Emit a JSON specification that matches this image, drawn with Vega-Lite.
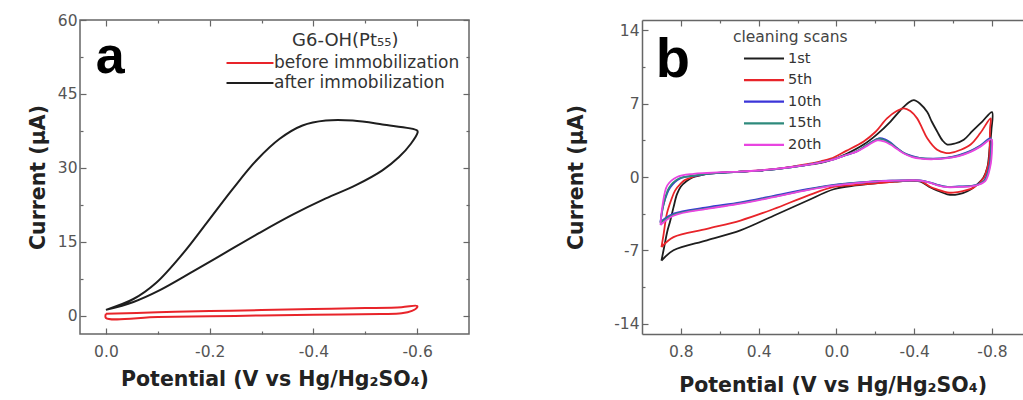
{
  "$schema": "https://vega.github.io/schema/vega-lite/v6.json",
  "background": "white",
  "padding": {"left": 27, "top": 12, "right": 0, "bottom": 0},
  "bounds": "flush",
  "spacing": 173,
  "config": {
    "font": "DejaVu Sans",
    "view": {"stroke": "#666", "strokeWidth": 1.5},
    "axis": {"grid": false, "labelFont": "DejaVu Sans", "labelFontSize": 15.5, "labelColor": "#555", "titleFont": "DejaVu Sans", "titleFontSize": 20.5, "titleFontWeight": "bold", "titleColor": "#222", "tickColor": "#666", "tickWidth": 1.2, "domainColor": "#666", "domainWidth": 1.5}
  },
  "datasets": {
    "a": [
      {"s": "before immobilization", "x": 0, "y": 0.4}, {"s": "before immobilization", "x": -0.1, "y": 0.7}, {"s": "before immobilization", "x": -0.2, "y": 0.95}, {"s": "before immobilization", "x": -0.3, "y": 1.15}, {"s": "before immobilization", "x": -0.4, "y": 1.35}, {"s": "before immobilization", "x": -0.5, "y": 1.55}, {"s": "before immobilization", "x": -0.57, "y": 1.75}, {"s": "before immobilization", "x": -0.6, "y": 2.0},
      {"s": "before immobilization", "x": -0.6, "y": 1.7}, {"s": "before immobilization", "x": -0.59, "y": 1.0}, {"s": "before immobilization", "x": -0.57, "y": 0.5}, {"s": "before immobilization", "x": -0.53, "y": 0.35}, {"s": "before immobilization", "x": -0.4, "y": 0.2}, {"s": "before immobilization", "x": -0.3, "y": 0.05}, {"s": "before immobilization", "x": -0.2, "y": -0.1}, {"s": "before immobilization", "x": -0.1, "y": -0.25}, {"s": "before immobilization", "x": 0, "y": -0.45}, {"s": "before immobilization", "x": 0, "y": 0.4},
      {"s": "after immobilization", "x": 0, "y": 1.2}, {"s": "after immobilization", "x": -0.053, "y": 3.4}, {"s": "after immobilization", "x": -0.097, "y": 6.7}, {"s": "after immobilization", "x": -0.149, "y": 12.7}, {"s": "after immobilization", "x": -0.194, "y": 18.8}, {"s": "after immobilization", "x": -0.245, "y": 25.8}, {"s": "after immobilization", "x": -0.29, "y": 31.5}, {"s": "after immobilization", "x": -0.335, "y": 35.9}, {"s": "after immobilization", "x": -0.379, "y": 38.6}, {"s": "after immobilization", "x": -0.424, "y": 39.6}, {"s": "after immobilization", "x": -0.476, "y": 39.6}, {"s": "after immobilization", "x": -0.533, "y": 38.8}, {"s": "after immobilization", "x": -0.6, "y": 37.6},
      {"s": "after immobilization", "x": -0.601, "y": 37.2}, {"s": "after immobilization", "x": -0.588, "y": 34.9}, {"s": "after immobilization", "x": -0.565, "y": 32.2}, {"s": "after immobilization", "x": -0.533, "y": 29.5}, {"s": "after immobilization", "x": -0.482, "y": 26.5}, {"s": "after immobilization", "x": -0.424, "y": 23.8}, {"s": "after immobilization", "x": -0.36, "y": 20.5}, {"s": "after immobilization", "x": -0.296, "y": 16.8}, {"s": "after immobilization", "x": -0.232, "y": 12.9}, {"s": "after immobilization", "x": -0.168, "y": 9.0}, {"s": "after immobilization", "x": -0.104, "y": 5.2}, {"s": "after immobilization", "x": -0.053, "y": 2.8}, {"s": "after immobilization", "x": 0, "y": 1.2}
    ],
    "b": [
      {"s": "1st", "x": 0.9, "y": -8.0}, {"s": "1st", "x": 0.885, "y": -6.6}, {"s": "1st", "x": 0.87, "y": -5.2}, {"s": "1st", "x": 0.855, "y": -4.2}, {"s": "1st", "x": 0.838, "y": -2.9}, {"s": "1st", "x": 0.82, "y": -1.64}, {"s": "1st", "x": 0.8, "y": -0.9}, {"s": "1st", "x": 0.77, "y": -0.38}, {"s": "1st", "x": 0.74, "y": -0.05}, {"s": "1st", "x": 0.7, "y": 0.15}, {"s": "1st", "x": 0.666, "y": 0.3}, {"s": "1st", "x": 0.58, "y": 0.42}, {"s": "1st", "x": 0.494, "y": 0.5}, {"s": "1st", "x": 0.4, "y": 0.6}, {"s": "1st", "x": 0.323, "y": 0.73}, {"s": "1st", "x": 0.24, "y": 0.93}, {"s": "1st", "x": 0.151, "y": 1.15}, {"s": "1st", "x": 0.08, "y": 1.35}, {"s": "1st", "x": 0.03, "y": 1.6}, {"s": "1st", "x": -0.05, "y": 2.2}, {"s": "1st", "x": -0.14, "y": 3.1}, {"s": "1st", "x": -0.21, "y": 4.1}, {"s": "1st", "x": -0.278, "y": 5.3}, {"s": "1st", "x": -0.33, "y": 6.4}, {"s": "1st", "x": -0.37, "y": 7.1}, {"s": "1st", "x": -0.398, "y": 7.35}, {"s": "1st", "x": -0.43, "y": 7.0}, {"s": "1st", "x": -0.467, "y": 6.2}, {"s": "1st", "x": -0.49, "y": 5.3}, {"s": "1st", "x": -0.518, "y": 4.35}, {"s": "1st", "x": -0.545, "y": 3.5}, {"s": "1st", "x": -0.57, "y": 3.1}, {"s": "1st", "x": -0.61, "y": 3.2}, {"s": "1st", "x": -0.655, "y": 3.56}, {"s": "1st", "x": -0.7, "y": 4.4}, {"s": "1st", "x": -0.75, "y": 5.3}, {"s": "1st", "x": -0.8, "y": 6.2},
      {"s": "1st", "x": -0.797, "y": 4.5}, {"s": "1st", "x": -0.788, "y": 2.8}, {"s": "1st", "x": -0.776, "y": 0.9}, {"s": "1st", "x": -0.755, "y": -0.1}, {"s": "1st", "x": -0.724, "y": -0.7}, {"s": "1st", "x": -0.69, "y": -1.2}, {"s": "1st", "x": -0.65, "y": -1.55}, {"s": "1st", "x": -0.61, "y": -1.7}, {"s": "1st", "x": -0.57, "y": -1.65}, {"s": "1st", "x": -0.52, "y": -1.3}, {"s": "1st", "x": -0.484, "y": -1.0}, {"s": "1st", "x": -0.433, "y": -0.45}, {"s": "1st", "x": -0.38, "y": -0.35}, {"s": "1st", "x": -0.3, "y": -0.45}, {"s": "1st", "x": -0.2, "y": -0.6}, {"s": "1st", "x": -0.1, "y": -0.8}, {"s": "1st", "x": 0.014, "y": -1.17}, {"s": "1st", "x": 0.151, "y": -2.27}, {"s": "1st", "x": 0.323, "y": -3.7}, {"s": "1st", "x": 0.494, "y": -5.1}, {"s": "1st", "x": 0.666, "y": -6.05}, {"s": "1st", "x": 0.838, "y": -7.0}, {"s": "1st", "x": 0.9, "y": -8.0},
      {"s": "5th", "x": 0.9, "y": -6.7}, {"s": "5th", "x": 0.89, "y": -5.6}, {"s": "5th", "x": 0.872, "y": -3.5}, {"s": "5th", "x": 0.85, "y": -2.2}, {"s": "5th", "x": 0.83, "y": -1.3}, {"s": "5th", "x": 0.8, "y": -0.6}, {"s": "5th", "x": 0.78, "y": -0.3}, {"s": "5th", "x": 0.74, "y": 0.0}, {"s": "5th", "x": 0.7, "y": 0.2}, {"s": "5th", "x": 0.666, "y": 0.32}, {"s": "5th", "x": 0.58, "y": 0.45}, {"s": "5th", "x": 0.494, "y": 0.52}, {"s": "5th", "x": 0.4, "y": 0.62}, {"s": "5th", "x": 0.323, "y": 0.75}, {"s": "5th", "x": 0.24, "y": 0.95}, {"s": "5th", "x": 0.151, "y": 1.22}, {"s": "5th", "x": 0.08, "y": 1.5}, {"s": "5th", "x": 0.03, "y": 1.75}, {"s": "5th", "x": -0.05, "y": 2.5}, {"s": "5th", "x": -0.14, "y": 3.4}, {"s": "5th", "x": -0.2, "y": 4.3}, {"s": "5th", "x": -0.26, "y": 5.6}, {"s": "5th", "x": -0.31, "y": 6.3}, {"s": "5th", "x": -0.347, "y": 6.56}, {"s": "5th", "x": -0.38, "y": 6.3}, {"s": "5th", "x": -0.415, "y": 5.6}, {"s": "5th", "x": -0.44, "y": 4.7}, {"s": "5th", "x": -0.467, "y": 3.7}, {"s": "5th", "x": -0.518, "y": 2.6}, {"s": "5th", "x": -0.56, "y": 2.3}, {"s": "5th", "x": -0.587, "y": 2.3}, {"s": "5th", "x": -0.64, "y": 2.6}, {"s": "5th", "x": -0.69, "y": 3.1}, {"s": "5th", "x": -0.74, "y": 4.2}, {"s": "5th", "x": -0.793, "y": 5.6},
      {"s": "5th", "x": -0.79, "y": 4.66}, {"s": "5th", "x": -0.784, "y": 1.5}, {"s": "5th", "x": -0.77, "y": 0.5}, {"s": "5th", "x": -0.758, "y": -0.06}, {"s": "5th", "x": -0.707, "y": -1.0}, {"s": "5th", "x": -0.65, "y": -1.35}, {"s": "5th", "x": -0.6, "y": -1.5}, {"s": "5th", "x": -0.57, "y": -1.48}, {"s": "5th", "x": -0.52, "y": -1.2}, {"s": "5th", "x": -0.484, "y": -0.95}, {"s": "5th", "x": -0.433, "y": -0.4}, {"s": "5th", "x": -0.38, "y": -0.35}, {"s": "5th", "x": -0.3, "y": -0.45}, {"s": "5th", "x": -0.2, "y": -0.6}, {"s": "5th", "x": -0.1, "y": -0.75}, {"s": "5th", "x": 0.014, "y": -0.95}, {"s": "5th", "x": 0.151, "y": -1.8}, {"s": "5th", "x": 0.323, "y": -3.06}, {"s": "5th", "x": 0.494, "y": -4.16}, {"s": "5th", "x": 0.666, "y": -4.95}, {"s": "5th", "x": 0.838, "y": -5.74}, {"s": "5th", "x": 0.9, "y": -6.7},
      {"s": "10th", "x": 0.905, "y": -4.3}, {"s": "10th", "x": 0.889, "y": -2.6}, {"s": "10th", "x": 0.855, "y": -1.0}, {"s": "10th", "x": 0.803, "y": -0.13}, {"s": "10th", "x": 0.735, "y": 0.1}, {"s": "10th", "x": 0.666, "y": 0.3}, {"s": "10th", "x": 0.58, "y": 0.42}, {"s": "10th", "x": 0.494, "y": 0.5}, {"s": "10th", "x": 0.4, "y": 0.6}, {"s": "10th", "x": 0.323, "y": 0.73}, {"s": "10th", "x": 0.24, "y": 0.92}, {"s": "10th", "x": 0.151, "y": 1.15}, {"s": "10th", "x": 0.08, "y": 1.4}, {"s": "10th", "x": 0.03, "y": 1.6}, {"s": "10th", "x": -0.05, "y": 2.1}, {"s": "10th", "x": -0.107, "y": 2.46}, {"s": "10th", "x": -0.16, "y": 3.1}, {"s": "10th", "x": -0.218, "y": 3.7}, {"s": "10th", "x": -0.25, "y": 3.6}, {"s": "10th", "x": -0.278, "y": 3.3}, {"s": "10th", "x": -0.31, "y": 2.8}, {"s": "10th", "x": -0.347, "y": 2.3}, {"s": "10th", "x": -0.39, "y": 2.0}, {"s": "10th", "x": -0.433, "y": 1.8}, {"s": "10th", "x": -0.5, "y": 1.75}, {"s": "10th", "x": -0.57, "y": 1.85}, {"s": "10th", "x": -0.63, "y": 2.1}, {"s": "10th", "x": -0.69, "y": 2.5}, {"s": "10th", "x": -0.74, "y": 3.0}, {"s": "10th", "x": -0.793, "y": 3.7},
      {"s": "10th", "x": -0.795, "y": 2.8}, {"s": "10th", "x": -0.785, "y": 0.9}, {"s": "10th", "x": -0.758, "y": -0.38}, {"s": "10th", "x": -0.72, "y": -0.75}, {"s": "10th", "x": -0.69, "y": -0.85}, {"s": "10th", "x": -0.63, "y": -0.9}, {"s": "10th", "x": -0.57, "y": -0.95}, {"s": "10th", "x": -0.52, "y": -0.75}, {"s": "10th", "x": -0.484, "y": -0.54}, {"s": "10th", "x": -0.44, "y": -0.35}, {"s": "10th", "x": -0.398, "y": -0.31}, {"s": "10th", "x": -0.3, "y": -0.35}, {"s": "10th", "x": -0.227, "y": -0.38}, {"s": "10th", "x": -0.1, "y": -0.55}, {"s": "10th", "x": 0.014, "y": -0.76}, {"s": "10th", "x": 0.151, "y": -1.17}, {"s": "10th", "x": 0.323, "y": -1.8}, {"s": "10th", "x": 0.494, "y": -2.43}, {"s": "10th", "x": 0.666, "y": -2.9}, {"s": "10th", "x": 0.838, "y": -3.5}, {"s": "10th", "x": 0.905, "y": -4.3},
      {"s": "15th", "x": 0.905, "y": -4.4}, {"s": "15th", "x": 0.89, "y": -2.7}, {"s": "15th", "x": 0.86, "y": -1.0}, {"s": "15th", "x": 0.81, "y": -0.15}, {"s": "15th", "x": 0.74, "y": 0.12}, {"s": "15th", "x": 0.666, "y": 0.3}, {"s": "15th", "x": 0.58, "y": 0.42}, {"s": "15th", "x": 0.494, "y": 0.5}, {"s": "15th", "x": 0.4, "y": 0.6}, {"s": "15th", "x": 0.323, "y": 0.73}, {"s": "15th", "x": 0.24, "y": 0.92}, {"s": "15th", "x": 0.151, "y": 1.15}, {"s": "15th", "x": 0.08, "y": 1.4}, {"s": "15th", "x": 0.03, "y": 1.6}, {"s": "15th", "x": -0.05, "y": 2.1}, {"s": "15th", "x": -0.107, "y": 2.5}, {"s": "15th", "x": -0.16, "y": 3.1}, {"s": "15th", "x": -0.215, "y": 3.65}, {"s": "15th", "x": -0.25, "y": 3.5}, {"s": "15th", "x": -0.28, "y": 3.2}, {"s": "15th", "x": -0.31, "y": 2.75}, {"s": "15th", "x": -0.347, "y": 2.3}, {"s": "15th", "x": -0.39, "y": 1.95}, {"s": "15th", "x": -0.433, "y": 1.8}, {"s": "15th", "x": -0.5, "y": 1.72}, {"s": "15th", "x": -0.57, "y": 1.82}, {"s": "15th", "x": -0.63, "y": 2.05}, {"s": "15th", "x": -0.69, "y": 2.45}, {"s": "15th", "x": -0.74, "y": 2.95}, {"s": "15th", "x": -0.795, "y": 3.65},
      {"s": "15th", "x": -0.797, "y": 2.8}, {"s": "15th", "x": -0.787, "y": 0.9}, {"s": "15th", "x": -0.76, "y": -0.4}, {"s": "15th", "x": -0.72, "y": -0.78}, {"s": "15th", "x": -0.69, "y": -0.88}, {"s": "15th", "x": -0.63, "y": -0.92}, {"s": "15th", "x": -0.57, "y": -0.95}, {"s": "15th", "x": -0.52, "y": -0.78}, {"s": "15th", "x": -0.484, "y": -0.55}, {"s": "15th", "x": -0.44, "y": -0.36}, {"s": "15th", "x": -0.398, "y": -0.31}, {"s": "15th", "x": -0.3, "y": -0.35}, {"s": "15th", "x": -0.227, "y": -0.4}, {"s": "15th", "x": -0.1, "y": -0.57}, {"s": "15th", "x": 0.014, "y": -0.8}, {"s": "15th", "x": 0.151, "y": -1.22}, {"s": "15th", "x": 0.323, "y": -1.88}, {"s": "15th", "x": 0.494, "y": -2.5}, {"s": "15th", "x": 0.666, "y": -3.0}, {"s": "15th", "x": 0.838, "y": -3.6}, {"s": "15th", "x": 0.905, "y": -4.4},
      {"s": "20th", "x": 0.905, "y": -4.6}, {"s": "20th", "x": 0.895, "y": -2.8}, {"s": "20th", "x": 0.87, "y": -0.8}, {"s": "20th", "x": 0.82, "y": 0.0}, {"s": "20th", "x": 0.735, "y": 0.3}, {"s": "20th", "x": 0.666, "y": 0.38}, {"s": "20th", "x": 0.58, "y": 0.46}, {"s": "20th", "x": 0.494, "y": 0.52}, {"s": "20th", "x": 0.4, "y": 0.62}, {"s": "20th", "x": 0.323, "y": 0.75}, {"s": "20th", "x": 0.24, "y": 0.93}, {"s": "20th", "x": 0.151, "y": 1.16}, {"s": "20th", "x": 0.08, "y": 1.4}, {"s": "20th", "x": 0.03, "y": 1.6}, {"s": "20th", "x": -0.05, "y": 2.1}, {"s": "20th", "x": -0.107, "y": 2.45}, {"s": "20th", "x": -0.16, "y": 3.0}, {"s": "20th", "x": -0.21, "y": 3.5}, {"s": "20th", "x": -0.245, "y": 3.4}, {"s": "20th", "x": -0.278, "y": 3.1}, {"s": "20th", "x": -0.31, "y": 2.7}, {"s": "20th", "x": -0.347, "y": 2.25}, {"s": "20th", "x": -0.39, "y": 1.9}, {"s": "20th", "x": -0.433, "y": 1.75}, {"s": "20th", "x": -0.5, "y": 1.7}, {"s": "20th", "x": -0.57, "y": 1.8}, {"s": "20th", "x": -0.63, "y": 2.0}, {"s": "20th", "x": -0.69, "y": 2.4}, {"s": "20th", "x": -0.74, "y": 2.9}, {"s": "20th", "x": -0.797, "y": 3.6},
      {"s": "20th", "x": -0.8, "y": 2.7}, {"s": "20th", "x": -0.79, "y": 0.9}, {"s": "20th", "x": -0.765, "y": -0.4}, {"s": "20th", "x": -0.72, "y": -0.8}, {"s": "20th", "x": -0.69, "y": -0.9}, {"s": "20th", "x": -0.63, "y": -0.95}, {"s": "20th", "x": -0.57, "y": -0.97}, {"s": "20th", "x": -0.52, "y": -0.8}, {"s": "20th", "x": -0.484, "y": -0.56}, {"s": "20th", "x": -0.44, "y": -0.36}, {"s": "20th", "x": -0.398, "y": -0.31}, {"s": "20th", "x": -0.3, "y": -0.35}, {"s": "20th", "x": -0.227, "y": -0.4}, {"s": "20th", "x": -0.1, "y": -0.58}, {"s": "20th", "x": 0.014, "y": -0.82}, {"s": "20th", "x": 0.151, "y": -1.25}, {"s": "20th", "x": 0.323, "y": -1.92}, {"s": "20th", "x": 0.494, "y": -2.55}, {"s": "20th", "x": 0.666, "y": -3.05}, {"s": "20th", "x": 0.838, "y": -3.7}, {"s": "20th", "x": 0.905, "y": -4.6}
    ]
  },
  "resolve": {"scale": {"x": "independent", "y": "independent", "color": "independent"}, "legend": {"color": "independent"}},
  "hconcat": [
    {
      "width": 389,
      "height": 314,
      "layer": [
        {
          "data": {"name": "a"},
          "mark": {"type": "line", "strokeWidth": 2, "clip": true, "interpolate": "catmull-rom"},
          "encoding": {
            "x": {"field": "x", "type": "quantitative", "scale": {"domain": [-0.7, 0.05], "reverse": true, "nice": false, "zero": false},
              "axis": {"title": "Potential (V vs Hg/Hg₂SO₄)", "values": [0, -0.1, -0.2, -0.3, -0.4, -0.5, -0.6], "format": ".1f", "labelExpr": "abs(round(datum.value*10))%2==0 ? replace(datum.label,'−','-') : ''", "tickSize": {"condition": {"test": "abs(round(datum.value*10))%2==0", "value": -6}, "value": -3}, "labelPadding": 16, "titlePadding": 10, "domain": false}},
            "y": {"field": "y", "type": "quantitative", "scale": {"domain": [-3.7, 60], "nice": false, "zero": false},
              "axis": {"title": "Current (μA)", "values": [0, 7.5, 15, 22.5, 30, 37.5, 45, 52.5, 60], "labelExpr": "datum.value%15==0 ? datum.label : ''", "tickSize": {"condition": {"test": "datum.value%15==0", "value": -6}, "value": -3}, "labelPadding": 9, "titlePadding": 9, "domain": false}},
            "color": {"field": "s", "type": "nominal", "scale": {"domain": ["before immobilization", "after immobilization"], "range": ["#e8242a", "#1e1e1e"]},
              "legend": {"orient": "none", "legendX": 212, "legendY": 12, "title": "G6-OH(Pt₅₅)", "titleAnchor": "start", "titleFont": "DejaVu Sans", "titleFontSize": 18, "titleFontWeight": "normal", "titleColor": "#333", "titlePadding": 4, "labelFont": "DejaVu Sans", "labelFontSize": 17, "labelColor": "#333", "labelLimit": 400, "symbolOffset": -51, "labelOffset": 15, "symbolType": "M-3,0H3", "symbolSize": 245, "symbolStrokeWidth": 2.2, "rowPadding": 3}},
            "order": {"value": null}
          }
        },
        {
          "data": {"values": [{"t": "a", "x": -0.008, "y": 49.2}]},
          "mark": {"type": "text", "font": "Liberation Sans", "fontWeight": "bold", "fontSize": 52, "align": "center", "baseline": "alphabetic", "color": "#000"},
          "encoding": {
            "x": {"field": "x", "type": "quantitative", "axis": {"orient": "top", "values": [0, -0.1, -0.2, -0.3, -0.4, -0.5, -0.6], "labels": false, "title": null, "domain": false, "tickSize": {"condition": {"test": "abs(round(datum.value*10))%2==0", "value": -6}, "value": -3}}},
            "y": {"field": "y", "type": "quantitative", "axis": {"orient": "right", "values": [0, 7.5, 15, 22.5, 30, 37.5, 45, 52.5, 60], "labels": false, "title": null, "domain": false, "tickSize": {"condition": {"test": "datum.value%15==0", "value": -6}, "value": -3}}},
            "text": {"field": "t"}
          }
        }
      ],
      "resolve": {"axis": {"x": "independent", "y": "independent"}}
    },
    {
      "width": 381.3,
      "height": 314,
      "view": {"stroke": null},
      "layer": [
        {
          "data": {"name": "b"},
          "mark": {"type": "line", "strokeWidth": 1.8, "clip": true, "interpolate": "catmull-rom"},
          "encoding": {
            "x": {"field": "x", "type": "quantitative", "scale": {"domain": [-0.961, 1.0], "reverse": true, "nice": false, "zero": false},
              "axis": {"title": "Potential (V vs Hg/Hg₂SO₄)", "values": [0.8, 0.6, 0.4, 0.2, 0, -0.2, -0.4, -0.6, -0.8], "format": ".1f", "labelExpr": "abs(round(datum.value*10))%4==0 ? replace(datum.label,'−','-') : ''", "tickSize": {"condition": {"test": "abs(round(datum.value*10))%4==0", "value": -6}, "value": -3}, "labelPadding": 16, "titlePadding": 16, "domain": true}},
            "y": {"field": "y", "type": "quantitative", "scale": {"domain": [-15, 15], "nice": false, "zero": false},
              "axis": {"title": "Current (μA)", "values": [-14, -10.5, -7, -3.5, 0, 3.5, 7, 10.5, 14], "labelExpr": "datum.value%7==0 ? replace(datum.label,'−','-') : ''", "tickSize": {"condition": {"test": "datum.value%7==0", "value": -6}, "value": -3}, "labelPadding": 9, "titlePadding": 27, "domain": true}},
            "color": {"field": "s", "type": "nominal", "scale": {"domain": ["1st", "5th", "10th", "15th", "20th"], "range": ["#1e1e1e", "#e8242a", "#3b35d8", "#2e8a7c", "#e845e0"]},
              "legend": {"orient": "none", "legendX": 91, "legendY": 10, "title": "cleaning scans", "titleAnchor": "start", "titleFont": "DejaVu Sans", "titleFontSize": 15.5, "titleFontWeight": "normal", "titleColor": "#444", "titlePadding": 5, "labelFont": "DejaVu Sans", "labelFontSize": 14.5, "labelColor": "#333", "labelLimit": 300, "symbolOffset": 23, "labelOffset": 16, "symbolType": "M-3,0H3", "symbolSize": 178, "symbolStrokeWidth": 2.2, "rowPadding": 6.6}},
            "order": {"value": null}
          }
        },
        {
          "data": {"values": [{"t": "b", "x": 0.841, "y": 9.6}]},
          "mark": {"type": "text", "font": "Liberation Sans", "fontWeight": "bold", "fontSize": 56, "align": "center", "baseline": "alphabetic", "color": "#000"},
          "encoding": {
            "x": {"field": "x", "type": "quantitative", "axis": {"orient": "top", "values": [0.8, 0.6, 0.4, 0.2, 0, -0.2, -0.4, -0.6, -0.8], "labels": false, "title": null, "domain": true, "tickSize": {"condition": {"test": "abs(round(datum.value*10))%4==0", "value": -6}, "value": -3}}},
            "y": {"field": "y", "type": "quantitative", "axis": null},
            "text": {"field": "t"}
          }
        }
      ],
      "resolve": {"axis": {"x": "independent", "y": "independent"}}
    }
  ]
}
